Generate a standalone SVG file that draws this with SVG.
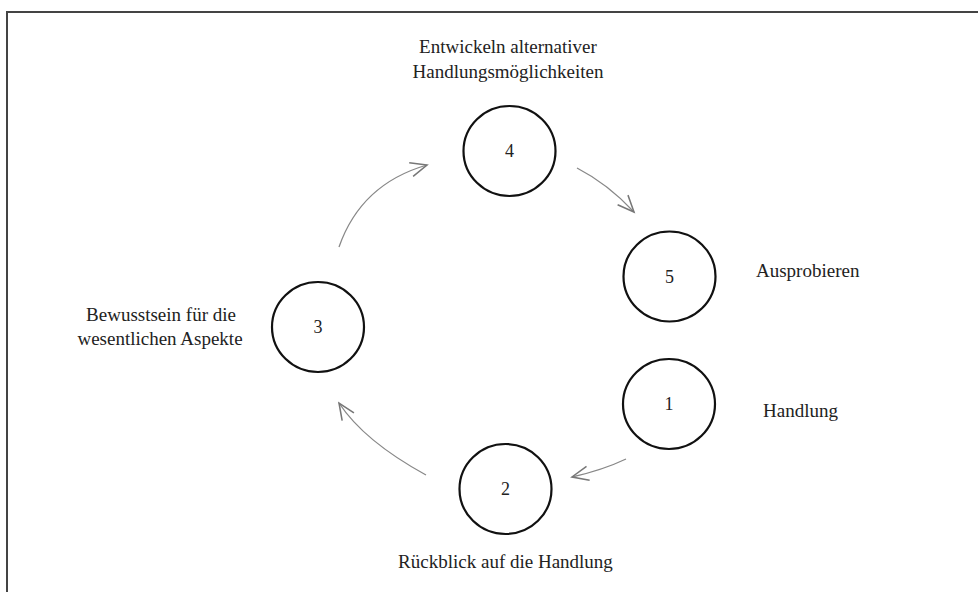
<svg xmlns="http://www.w3.org/2000/svg" width="978" height="592" viewBox="0 0 978 592">
<style>
.node{fill:#fff;stroke:#111;stroke-width:2.2}
.num{font-family:"Liberation Serif",serif;font-size:18px;fill:#222;text-anchor:middle}
.lbl{font-family:"Liberation Serif",serif;font-size:19px;fill:#222}
.c{text-anchor:middle}
.edge{fill:none;stroke:#888;stroke-width:1.3}
</style>
<defs>
<marker id="arr" markerUnits="userSpaceOnUse" markerWidth="20" markerHeight="20" viewBox="-15 -8 17 16" refX="0" refY="0" orient="auto">
<path d="M-14,-6 L0,0 L-14,6" fill="none" stroke="#777" stroke-width="1.3"/>
</marker>
</defs>
<rect width="978" height="592" fill="#fff"/>
<path d="M7,600 V12 H985" fill="none" stroke="#444" stroke-width="2"/>
<g id="connectors">
<path class="edge" d="M339,247 Q361,184 427,165" marker-end="url(#arr)"/>
<path class="edge" d="M577,168 Q608,184 634,212" marker-end="url(#arr)"/>
<path class="edge" d="M626,459 Q603,470 572,477" marker-end="url(#arr)"/>
<path class="edge" d="M426,475 Q364,441 339,403" marker-end="url(#arr)"/>
</g>
<g id="node4">
<ellipse class="node" cx="509.5" cy="151" rx="46" ry="45"/>
<text class="num" x="509.5" y="157">4</text>
<text class="lbl c" x="508" y="53">Entwickeln alternativer</text>
<text class="lbl c" x="508" y="78">Handlungsmöglichkeiten</text>
</g>
<g id="node5">
<ellipse class="node" cx="669.5" cy="276.5" rx="46" ry="45"/>
<text class="num" x="669.5" y="282.5">5</text>
<text class="lbl" x="756" y="277">Ausprobieren</text>
</g>
<g id="node1">
<ellipse class="node" cx="669" cy="404" rx="46" ry="45"/>
<text class="num" x="669" y="410">1</text>
<text class="lbl" x="763" y="417">Handlung</text>
</g>
<g id="node2">
<ellipse class="node" cx="505.5" cy="489" rx="46" ry="45"/>
<text class="num" x="505.5" y="495">2</text>
<text class="lbl c" x="505.5" y="568">Rückblick auf die Handlung</text>
</g>
<g id="node3">
<ellipse class="node" cx="318" cy="327" rx="46" ry="45"/>
<text class="num" x="318" y="333">3</text>
<text class="lbl c" x="161" y="321">Bewusstsein für die</text>
<text class="lbl c" x="160" y="345">wesentlichen Aspekte</text>
</g>
</svg>
